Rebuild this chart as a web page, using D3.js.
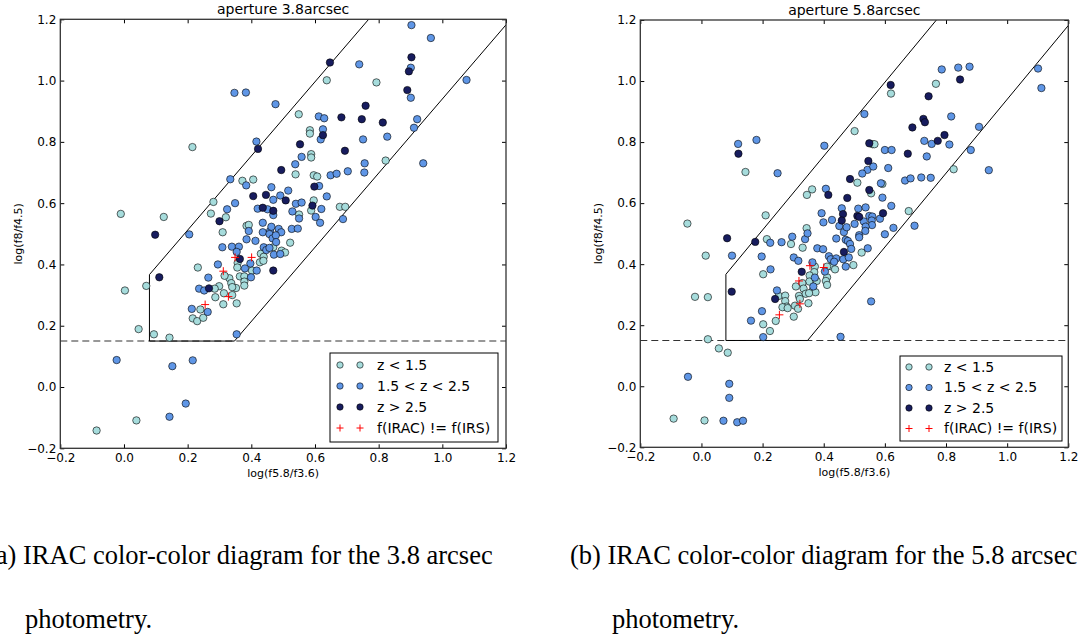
<!DOCTYPE html>
<html>
<head>
<meta charset="utf-8">
<script src="https://cdn.jsdelivr.net/npm/d3@7"></script>
<style>
  body { margin: 0; background: #fff; }
  svg text { font-family: "DejaVu Sans", sans-serif; fill: #000; }
  .caption { font-family: "Liberation Serif", "Times New Roman", serif; font-size: 26.5px; }
</style>
</head>
<body>
<svg id="chart" width="1088" height="639"></svg>
<script>
// ||================================||
// || DATA                           ||
// ||================================||

var xDomain = [-0.2, 1.2],
    yDomain = [-0.2, 1.2];
var tickValues = [-0.2, 0.0, 0.2, 0.4, 0.6, 0.8, 1.0, 1.2];

var classNames = ["z < 1.5", "1.5 < z < 2.5", "z > 2.5", "f(IRAC) != f(IRS)"];
var classColors = ["#a6dcdc", "#5f96e6", "#171c5e"];

// Donley wedge: x >= 0.08, y >= 0.15, |y - 1.21x| <= 0.27
var wedgeX = 0.08, wedgeY = 0.15, wedgeSlope = 1.21, wedgeOffset = 0.27;

// aperture 3.8 arcsec
var lowZ38 = [[0.637,1.001],[0.793,0.994],[0.549,0.890],[0.584,0.838],[0.584,0.827],[0.215,0.783],[0.822,0.739],[0.588,0.760],[0.588,0.749],[0.539,0.694],[0.596,0.691],[0.607,0.687],[0.372,0.673],[0.406,0.677],[0.281,0.604],[0.596,0.609],[0.588,0.576],[0.550,0.563],[0.678,0.588],[0.695,0.588],[0.273,0.566],[0.320,0.554],[-0.010,0.565],[0.125,0.555],[0.310,0.505],[0.385,0.526],[0.392,0.529],[0.522,0.471],[0.469,0.456],[0.495,0.445],[0.506,0.439],[0.430,0.435],[0.439,0.425],[0.427,0.407],[0.438,0.412],[0.402,0.380],[0.357,0.405],[0.356,0.390],[0.364,0.361],[0.378,0.361],[0.378,0.344],[0.378,0.331],[0.352,0.323],[0.331,0.355],[0.316,0.363],[0.337,0.339],[0.340,0.326],[0.340,0.300],[0.314,0.306],[0.354,0.273],[0.312,0.270],[0.299,0.329],[0.285,0.321],[0.232,0.390],[0.287,0.293],[0.240,0.253],[0.216,0.224],[0.230,0.215],[0.249,0.226],[0.070,0.330],[0.003,0.315],[0.046,0.189],[0.094,0.172],[0.143,0.161],[0.039,-0.109],[-0.086,-0.142]];
var midZ38 = [[0.903,1.181],[0.964,1.139],[0.739,1.053],[0.901,1.042],[1.076,1.002],[0.347,0.960],[0.383,0.961],[0.901,0.944],[0.476,0.923],[0.612,0.883],[0.629,0.877],[0.921,0.874],[0.911,0.846],[0.625,0.841],[0.618,0.808],[0.751,0.808],[0.827,0.817],[0.416,0.801],[0.940,0.730],[0.558,0.751],[0.538,0.727],[0.649,0.691],[0.668,0.696],[0.703,0.704],[0.755,0.700],[0.756,0.730],[0.334,0.678],[0.384,0.658],[0.463,0.652],[0.613,0.656],[0.491,0.625],[0.516,0.641],[0.637,0.622],[0.349,0.600],[0.469,0.611],[0.420,0.582],[0.451,0.580],[0.469,0.561],[0.540,0.598],[0.558,0.602],[0.620,0.581],[0.529,0.573],[0.550,0.550],[0.602,0.555],[0.616,0.536],[0.688,0.548],[0.324,0.580],[0.205,0.498],[0.392,0.509],[0.436,0.536],[0.436,0.505],[0.459,0.509],[0.463,0.523],[0.486,0.516],[0.494,0.505],[0.457,0.499],[0.467,0.485],[0.477,0.495],[0.478,0.473],[0.527,0.516],[0.546,0.517],[0.385,0.482],[0.413,0.477],[0.309,0.456],[0.339,0.458],[0.361,0.458],[0.354,0.441],[0.439,0.456],[0.447,0.447],[0.457,0.454],[0.471,0.432],[0.491,0.434],[0.397,0.403],[0.380,0.387],[0.417,0.380],[0.399,0.358],[0.295,0.400],[0.265,0.357],[0.236,0.321],[0.252,0.315],[0.213,0.255],[0.263,0.245],[0.354,0.172],[-0.023,0.088],[0.152,0.068],[0.216,0.087],[0.194,-0.054],[0.143,-0.097]];
var highZ38 = [[0.647,1.059],[0.903,1.076],[0.895,1.030],[0.890,0.969],[0.759,0.918],[0.683,0.880],[0.747,0.874],[0.813,0.863],[0.625,0.822],[0.421,0.777],[0.553,0.792],[0.694,0.771],[0.494,0.708],[0.598,0.654],[0.406,0.623],[0.446,0.627],[0.508,0.609],[0.436,0.585],[0.469,0.575],[0.592,0.592],[0.300,0.541],[0.098,0.497],[0.364,0.418],[0.267,0.322],[0.111,0.358],[0.469,0.380]];
var mismatch38 = [[0.349,0.423],[0.401,0.423],[0.312,0.378],[0.328,0.295],[0.255,0.269]];

// aperture 5.8 arcsec
var lowZ58 = [[0.767,0.991],[0.620,0.959],[0.501,0.836],[0.560,0.793],[0.566,0.793],[0.825,0.711],[0.144,0.702],[0.510,0.667],[0.592,0.663],[0.555,0.632],[0.678,0.574],[0.362,0.645],[0.345,0.627],[0.497,0.397],[0.524,0.438],[0.427,0.392],[0.437,0.383],[0.411,0.392],[0.371,0.392],[0.369,0.374],[0.354,0.363],[0.353,0.343],[0.377,0.345],[0.411,0.357],[0.407,0.345],[0.411,0.332],[0.365,0.316],[0.373,0.308],[0.330,0.338],[0.334,0.320],[0.309,0.327],[0.319,0.296],[0.341,0.303],[0.352,0.305],[0.350,0.272],[0.322,0.286],[0.306,0.264],[0.316,0.254],[0.302,0.228],[0.253,0.296],[0.274,0.297],[0.274,0.279],[0.279,0.261],[0.265,0.259],[0.282,0.256],[0.243,0.214],[0.224,0.181],[0.202,0.203],[0.202,0.367],[0.210,0.560],[0.214,0.482],[0.293,0.466],[0.344,0.518],[0.331,0.454],[0.014,0.428],[-0.046,0.533],[-0.021,0.293],[0.021,0.292],[0.021,0.154],[0.057,0.124],[0.086,0.110],[-0.091,-0.106],[0.010,-0.112]];
var midZ58 = [[1.101,1.041],[1.112,0.977],[0.786,1.038],[0.840,1.044],[0.877,1.047],[0.533,0.892],[0.817,0.884],[0.908,0.850],[0.600,0.774],[0.622,0.774],[0.729,0.804],[0.753,0.794],[0.811,0.792],[0.881,0.774],[0.737,0.753],[0.940,0.708],[0.402,0.788],[0.120,0.794],[0.180,0.807],[0.249,0.698],[0.543,0.709],[0.562,0.720],[0.526,0.697],[0.611,0.715],[0.587,0.665],[0.666,0.674],[0.684,0.681],[0.719,0.684],[0.750,0.683],[0.697,0.526],[0.628,0.519],[0.600,0.498],[0.592,0.618],[0.621,0.591],[0.584,0.549],[0.407,0.647],[0.513,0.582],[0.537,0.586],[0.549,0.558],[0.559,0.556],[0.557,0.543],[0.558,0.528],[0.531,0.540],[0.501,0.532],[0.537,0.523],[0.536,0.509],[0.516,0.495],[0.516,0.488],[0.459,0.583],[0.451,0.525],[0.466,0.505],[0.475,0.521],[0.472,0.480],[0.479,0.476],[0.486,0.466],[0.490,0.450],[0.441,0.484],[0.427,0.545],[0.393,0.567],[0.399,0.537],[0.379,0.452],[0.398,0.449],[0.417,0.426],[0.423,0.416],[0.441,0.419],[0.464,0.416],[0.482,0.422],[0.472,0.392],[0.544,0.452],[0.434,0.408],[0.404,0.376],[0.363,0.406],[0.371,0.356],[0.366,0.327],[0.247,0.314],[0.198,0.246],[0.162,0.215],[0.202,0.161],[0.197,0.425],[0.226,0.383],[0.225,0.470],[0.262,0.472],[0.297,0.490],[0.302,0.422],[0.317,0.411],[0.339,0.482],[0.347,0.501],[0.100,0.428],[-0.044,0.031],[0.091,0.008],[0.091,-0.038],[0.072,-0.113],[0.117,-0.118],[0.136,-0.113],[0.455,0.162],[0.555,0.278]];
var highZ58 = [[0.846,1.005],[0.619,0.987],[0.743,0.950],[0.726,0.876],[0.731,0.865],[0.690,0.848],[0.549,0.796],[0.773,0.804],[0.795,0.823],[0.675,0.762],[0.121,0.762],[0.546,0.738],[0.486,0.679],[0.549,0.643],[0.594,0.567],[0.415,0.627],[0.477,0.617],[0.510,0.558],[0.516,0.555],[0.463,0.564],[0.459,0.543],[0.466,0.440],[0.328,0.375],[0.241,0.286],[0.176,0.473],[0.084,0.485],[0.099,0.310]];
var mismatch58 = [[0.355,0.395],[0.400,0.389],[0.319,0.345],[0.322,0.270],[0.255,0.234]];

// ||================================||
// || LAYOUT                         ||
// ||================================||

var panels = [
  { title: "aperture 3.8arcsec", x0: 60.3, x1: 506, y0: 19.3, y1: 448.3,
    legend: { x: 330, y: 353, w: 168, h: 89, row0: 12, gap: 21, m1: 10, m2: 30, tx: 47 },
    series: [lowZ38, midZ38, highZ38], mismatch: mismatch38,
    yLabelX: 18 },
  { title: "aperture 5.8arcsec", x0: 640.3, x1: 1068.3, y0: 20, y1: 447.3,
    legend: { x: 900, y: 356, w: 162, h: 85, row0: 11, gap: 20.5, m1: 9, m2: 29, tx: 44 },
    series: [lowZ58, midZ58, highZ58], mismatch: mismatch58,
    yLabelX: 598 }
];

var svg = d3.select("#chart");
var fmt = d3.format(".1f");

panels.forEach(drawPanel);

function drawPanel(p) {
  var x = d3.scaleLinear().domain(xDomain).range([p.x0, p.x1]);
  var y = d3.scaleLinear().domain(yDomain).range([p.y1, p.y0]);
  var g = svg.append("g");

  // axes, ticks point inwards on all four sides
  g.append("g")
      .attr("transform", "translate(0," + p.y1 + ")")
      .call(d3.axisBottom(x).tickValues(tickValues).tickFormat(fmt)
        .tickSizeInner(-4).tickSizeOuter(0).tickPadding(5));
  g.append("g")
      .attr("transform", "translate(" + p.x0 + ",0)")
      .call(d3.axisLeft(y).tickValues(tickValues).tickFormat(fmt)
        .tickSizeInner(-4).tickSizeOuter(0).tickPadding(4));
  g.append("g")
      .attr("transform", "translate(0," + p.y0 + ")")
      .call(d3.axisTop(x).tickValues(tickValues).tickFormat("")
        .tickSizeInner(-4).tickSizeOuter(0));
  g.append("g")
      .attr("transform", "translate(" + p.x1 + ",0)")
      .call(d3.axisRight(y).tickValues(tickValues).tickFormat("")
        .tickSizeInner(-4).tickSizeOuter(0));

  g.selectAll(".domain").remove();
  g.selectAll(".tick line").attr("stroke", "#000").attr("stroke-width", 1);
  g.selectAll(".tick text")
      .attr("font-family", "DejaVu Sans")
      .attr("font-size", 12);

  // selection wedge
  var yTop = wedgeSlope * wedgeX + wedgeOffset;
  var xTop = (yDomain[1] - wedgeOffset) / wedgeSlope;
  var xLow = (wedgeY + wedgeOffset) / wedgeSlope;
  var yRight = wedgeSlope * xDomain[1] - wedgeOffset;

  g.append("line")
      .attr("x1", p.x0).attr("x2", p.x1)
      .attr("y1", y(wedgeY)).attr("y2", y(wedgeY))
      .attr("stroke", "#333").attr("stroke-width", 1.1)
      .attr("stroke-dasharray", "7,4");

  var line = d3.line().x(function(d) { return x(d[0]); }).y(function(d) { return y(d[1]); });
  g.append("path")
      .attr("d", line([[xTop, yDomain[1]], [wedgeX, yTop], [wedgeX, wedgeY], [xLow, wedgeY], [xDomain[1], yRight]]))
      .attr("fill", "none").attr("stroke", "#000").attr("stroke-width", 1);

  // points
  p.series.forEach(function(pts, i) {
    g.append("g").selectAll("circle")
      .data(pts)
      .enter().append("circle")
        .attr("cx", function(d) { return x(d[0]); })
        .attr("cy", function(d) { return y(d[1]); })
        .attr("r", 3.7)
        .attr("fill", classColors[i])
        .attr("stroke", "#000")
        .attr("stroke-width", 0.6);
  });

  g.append("g").selectAll("path")
    .data(p.mismatch)
    .enter().append("path")
      .attr("d", function(d) {
        var cx = x(d[0]), cy = y(d[1]);
        return "M" + (cx - 4) + "," + cy + "H" + (cx + 4) + "M" + cx + "," + (cy - 4) + "V" + (cy + 4);
      })
      .attr("stroke", "#ff0000").attr("stroke-width", 1);

  // frame
  g.append("rect")
      .attr("x", p.x0).attr("y", p.y0)
      .attr("width", p.x1 - p.x0).attr("height", p.y1 - p.y0)
      .attr("fill", "none").attr("stroke", "#333").attr("stroke-width", 1.3);

  // titles
  g.append("text")
      .attr("x", (p.x0 + p.x1) / 2).attr("y", p.y0 - 5)
      .attr("text-anchor", "middle").attr("font-size", 14)
      .text(p.title);
  g.append("text")
      .attr("x", (p.x0 + p.x1) / 2).attr("y", p.y1 + 29)
      .attr("text-anchor", "middle").attr("font-size", 11)
      .text("log(f5.8/f3.6)");
  g.append("text")
      .attr("transform", "translate(" + p.yLabelX + "," + (p.y0 + p.y1) / 2 + ") rotate(-90)")
      .attr("text-anchor", "middle").attr("dy", "0.35em").attr("font-size", 11)
      .text("log(f8/f4.5)");

  // legend
  var L = p.legend;
  var lg = g.append("g").attr("transform", "translate(" + L.x + "," + L.y + ")");
  lg.append("rect")
      .attr("width", L.w).attr("height", L.h)
      .attr("fill", "#fff").attr("stroke", "#000").attr("stroke-width", 1);
  classNames.forEach(function(name, i) {
    var ry = L.row0 + i * L.gap;
    [L.m1, L.m2].forEach(function(mx) {
      if (i < 3) {
        lg.append("circle").attr("cx", mx).attr("cy", ry).attr("r", 3.2)
          .attr("fill", classColors[i]).attr("stroke", "#000").attr("stroke-width", 0.6);
      } else {
        lg.append("path").attr("d", "M" + (mx - 3.5) + "," + ry + "H" + (mx + 3.5) + "M" + mx + "," + (ry - 3.5) + "V" + (ry + 3.5))
          .attr("stroke", "#ff0000").attr("stroke-width", 1);
      }
    });
    lg.append("text").attr("x", L.tx).attr("y", ry).attr("dy", "0.35em")
      .attr("font-size", 14).text(name);
  });
}

// ||================================||
// || CAPTIONS                       ||
// ||================================||

svg.append("text").attr("class", "caption").attr("x", -13).attr("y", 564)
    .text("(a) IRAC color-color diagram for the 3.8 arcsec");
svg.append("text").attr("class", "caption").attr("x", 25).attr("y", 628)
    .text("photometry.");
svg.append("text").attr("class", "caption").attr("x", 570).attr("y", 564)
    .text("(b) IRAC color-color diagram for the 5.8 arcsec");
svg.append("text").attr("class", "caption").attr("x", 612).attr("y", 628)
    .text("photometry.");
</script>
</body>
</html>
